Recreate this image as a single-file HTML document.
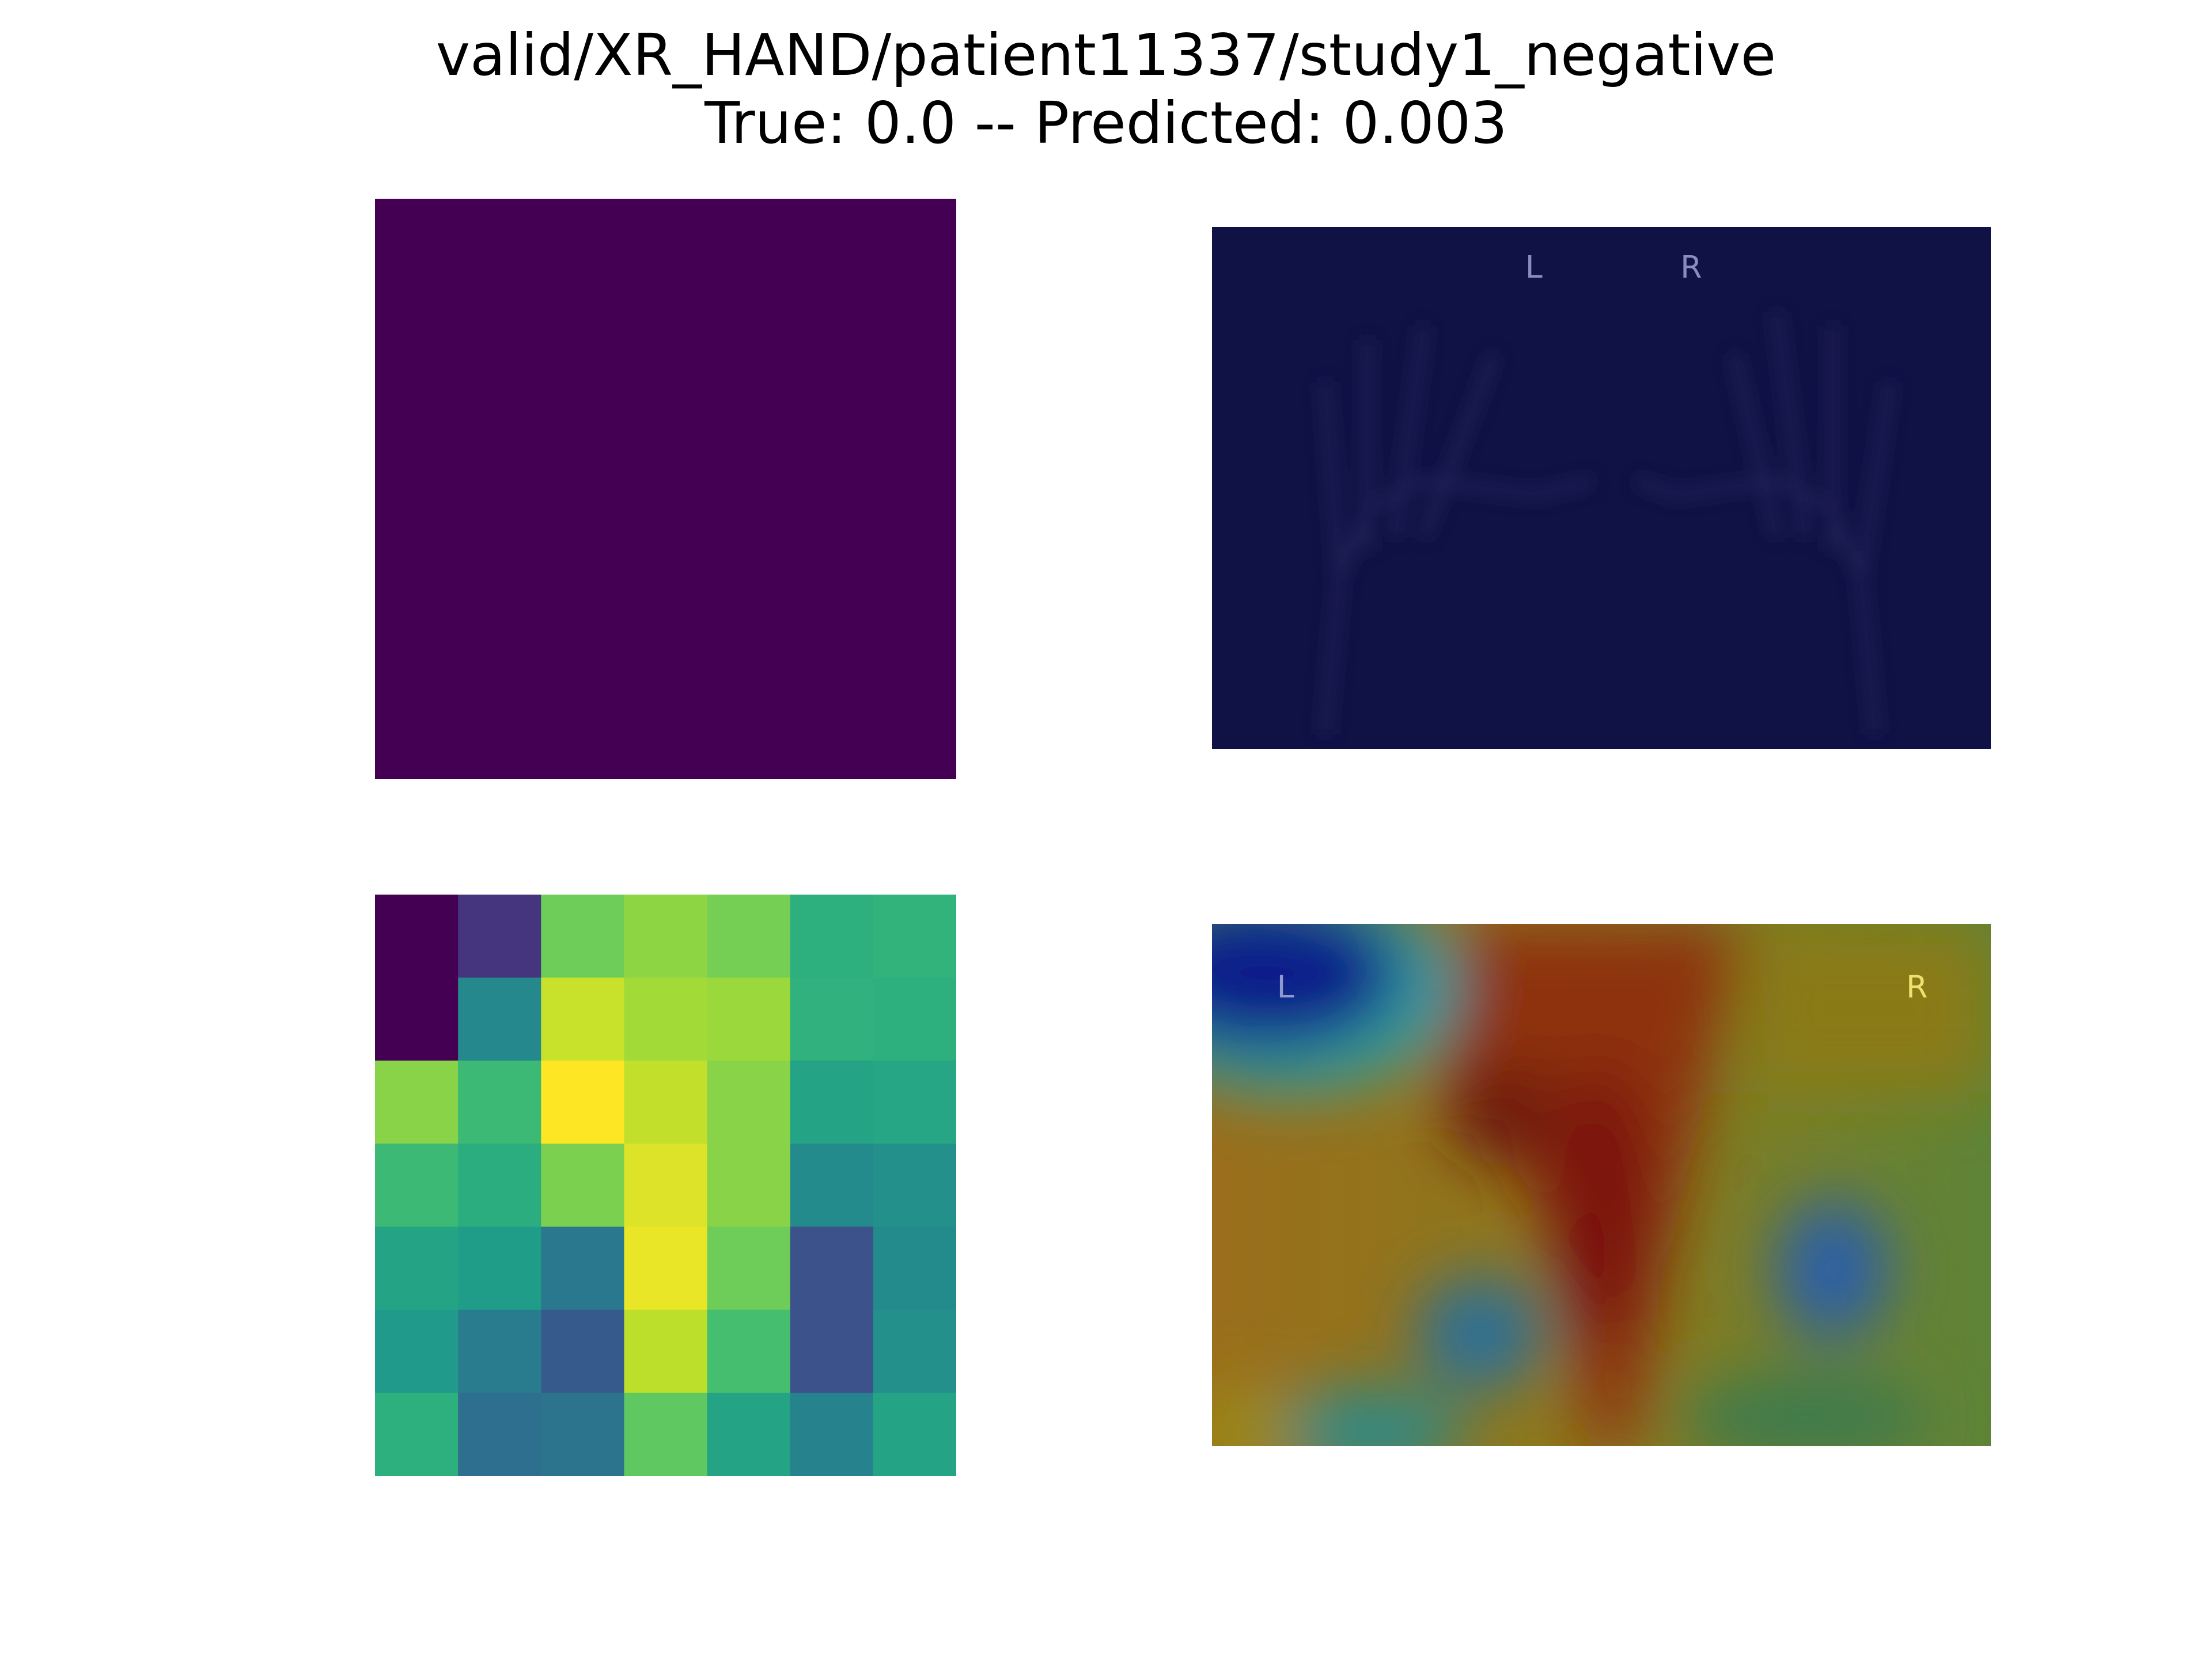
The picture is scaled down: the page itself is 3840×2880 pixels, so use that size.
<!DOCTYPE html>
<html><head><meta charset="utf-8">
<style>
html,body{margin:0;padding:0;background:#fff;}
#root{position:relative;width:3840px;height:2880px;overflow:hidden;background:#fff;font-family:"DejaVu Sans","Liberation Sans",sans-serif;}
.t{position:absolute;left:0;width:3840px;text-align:center;font-size:100px;color:#000;line-height:1;}
</style></head>
<body>
<div id="root">
<div class="t" style="top:46px">valid/XR_HAND/patient11337/study1_negative</div>
<div class="t" style="top:164px">True: 0.0 -- Predicted: 0.003</div>

<div style="position:absolute;left:651px;top:345px;width:1009px;height:1007px;background:#440154"></div>

<svg style="position:absolute;left:2104px;top:394px" width="1352" height="906" viewBox="0 0 552 370" preserveAspectRatio="none">
<defs><filter id="b1"><feGaussianBlur stdDeviation="6"/></filter></defs>
<rect width="552" height="370" fill="#101145"/>
<g fill="none" stroke="#24265c" stroke-width="8" filter="url(#b1)" opacity="0.7">
<path d="M80 360 L90 250 L110 200 L150 180 L230 190 L270 180"/>
<path d="M90 250 L80 110 M110 230 L110 80 M130 220 L150 70 M150 220 L200 90"/>
<path d="M470 360 L460 250 L440 200 L400 180 L330 190 L300 180"/>
<path d="M460 250 L480 110 M440 230 L440 70 M420 220 L400 60 M400 220 L370 90"/>
</g>
<text x="222" y="36" fill="#8a8cc0" font-size="22" font-family="DejaVu Sans">L</text>
<text x="332" y="36" fill="#8a8cc0" font-size="22" font-family="DejaVu Sans">R</text>
</svg>

<svg id="hm" style="position:absolute;left:651px;top:1553px" width="1009" height="1009"></svg>

<svg style="position:absolute;left:2104px;top:1604px" width="1352" height="906" viewBox="0 0 552 370" preserveAspectRatio="none">
<defs>
<filter id="bl" x="-30%" y="-30%" width="160%" height="160%"><feGaussianBlur stdDeviation="22"/></filter>
<linearGradient id="base" x1="0" x2="1"><stop offset="0" stop-color="#9a6e1c"/><stop offset="0.5" stop-color="#8a7a1c"/><stop offset="1" stop-color="#5e8438"/></linearGradient>
<clipPath id="c"><rect width="552" height="370"/></clipPath>
</defs>
<g clip-path="url(#c)">
<rect width="552" height="370" fill="url(#base)"/>
<g filter="url(#bl)">
<rect x="380" y="0" width="172" height="120" fill="#8a7a18"/>
<path d="M170 0 L380 0 L350 120 L320 250 L300 370 L265 370 L250 250 L220 180 L160 130 Z" fill="#8e3010"/>
<ellipse cx="275" cy="200" rx="35" ry="100" fill="#7a1008"/>
<ellipse cx="205" cy="135" rx="35" ry="35" fill="#6a1808"/>
<ellipse cx="55" cy="45" rx="120" ry="75" fill="#30a0a0"/>
<ellipse cx="40" cy="35" rx="95" ry="55" fill="#0a1a8a"/>
<ellipse cx="190" cy="290" rx="45" ry="40" fill="#2a709a"/>
<ellipse cx="440" cy="245" rx="40" ry="50" fill="#2a5ea8"/>
<ellipse cx="110" cy="360" rx="70" ry="30" fill="#2a8a8a"/>
<ellipse cx="420" cy="350" rx="90" ry="30" fill="#3a7a50"/>
<ellipse cx="20" cy="360" rx="40" ry="30" fill="#9a8a18"/>
</g>
<text x="46" y="52" fill="#9098d0" font-size="22" font-family="DejaVu Sans">L</text>
<text x="492" y="52" fill="#f0e070" font-size="22" font-family="DejaVu Sans">R</text>
</g>
</svg>
</div>
<script>
const rows = 7, cols = 7;
const cellValues = [
 [0.00,0.15,0.78,0.83,0.79,0.63,0.65],
 [0.00,0.47,0.92,0.86,0.85,0.64,0.63],
 [0.82,0.68,1.00,0.91,0.82,0.58,0.59],
 [0.68,0.62,0.80,0.95,0.82,0.48,0.50],
 [0.58,0.55,0.40,0.97,0.78,0.25,0.48],
 [0.54,0.42,0.28,0.90,0.70,0.25,0.50],
 [0.63,0.36,0.38,0.75,0.58,0.45,0.58]
];
const stops=[[68,1,84],[72,40,120],[62,74,137],[49,104,142],[38,130,142],[31,158,137],[53,183,121],[109,205,89],[180,222,44],[253,231,37]];
function viridis(v){v=Math.max(0,Math.min(1,v));const p=v*(stops.length-1);const i=Math.min(stops.length-2,Math.floor(p));const f=p-i;const a=stops[i],b=stops[i+1];return 'rgb('+[0,1,2].map(k=>Math.round(a[k]+(b[k]-a[k])*f)).join(',')+')';}
const svg=document.getElementById('hm');const W=1009,H=1009;
function xPos(c){return c*W/cols;} function yPos(r){return r*H/rows;}
for(let r=0;r<rows;r++)for(let c=0;c<cols;c++){
 const el=document.createElementNS('http://www.w3.org/2000/svg','rect');
 el.setAttribute('x',xPos(c));el.setAttribute('y',yPos(r));
 el.setAttribute('width',W/cols+0.5);el.setAttribute('height',H/rows+0.5);
 el.setAttribute('fill',viridis(cellValues[r][c]));
 
 
 svg.appendChild(el);
}
</script>
</body></html>
